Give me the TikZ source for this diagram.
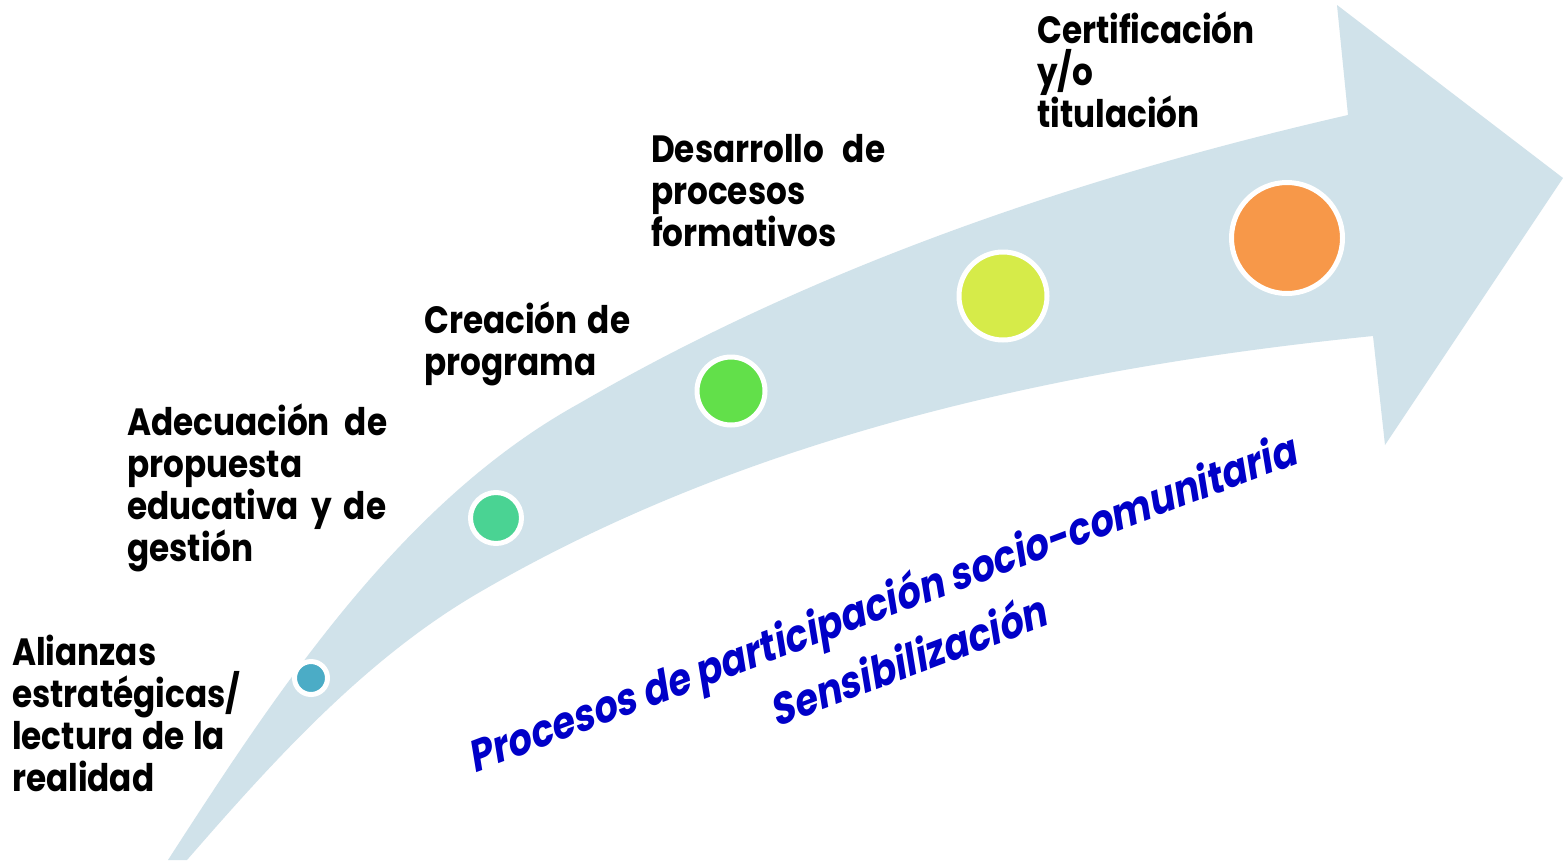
\documentclass[tikz,border=0pt]{standalone}
\usepackage{fontspec}
\usepackage{graphicx}
\newfontfamily\labfont{Poppins Bold}[FakeStretch=0.86]
\newfontfamily\bluefont{Poppins Bold}[FakeSlant=0.2,FakeStretch=0.86]
\definecolor{bandc}{RGB}{208,226,234}
\definecolor{c1}{RGB}{75,172,198}
\definecolor{c2}{RGB}{74,211,147}
\definecolor{c3}{RGB}{98,224,74}
\definecolor{c4}{RGB}{214,235,73}
\definecolor{c5}{RGB}{247,152,73}
\definecolor{bluetxt}{RGB}{0,0,200}
\begin{document}
\begin{tikzpicture}[x=1pt,y=-1pt,
  lbl/.style={anchor=base west, inner sep=0pt, text=black, font=\labfont\fontsize{38}{42}\selectfont},
  bl/.style={anchor=base, inner sep=0pt, rotate=20.6, text=bluetxt, font=\bluefont\fontsize{44}{50}\selectfont},
  dot/.style={circle, draw=white, line width=5pt, inner sep=0pt}]
\useasboundingbox (0,0) rectangle (1563,860);
\fill[white] (0,0) rectangle (1563,860);
% big curved arrow
\fill[bandc] (168,860) .. controls (279,688) and (402,501) .. (580,403)
  .. controls (816,266) and (1082,176) .. (1348,115)
  -- (1337,5) -- (1563,178) -- (1385,445) -- (1373,336)
  .. controls (1064,367) and (748,436) .. (480,592)
  .. controls (366,658) and (274,760) .. (187,860)
  -- cycle;
% dots
\node[dot, fill=c1, minimum size=33pt] (d1) at (311,678) {};
\node[dot, fill=c2, minimum size=51pt] (d2) at (496,518) {};
\node[dot, fill=c3, minimum size=68pt] (d3) at (731,391) {};
\node[dot, fill=c4, minimum size=88pt] (d4) at (1003,296) {};
\node[dot, fill=c5, minimum size=111pt] (d5) at (1287,238) {};
% labels
\node[lbl] (l1) at (12,665) {\vtop{\hbox{Alianzas}\hbox{estratégicas/}\hbox{\makebox[213pt][s]{lectura de la}}\hbox{realidad}}};
\node[lbl] (l2) at (127,435) {\vtop{\hbox{\makebox[260pt][s]{Adecuación de}}\hbox{propuesta}\hbox{\makebox[259pt][s]{educativa y de}}\hbox{gestión}}};
\node[lbl] (l3) at (424,333) {\vtop{\hbox{\makebox[206pt][s]{Creación de}}\hbox{programa}}};
\node[lbl] (l4) at (651,162) {\vtop{\hbox{\makebox[234pt][s]{Desarrollo de}}\hbox{procesos}\hbox{formativos}}};
\node[lbl] (l5) at (1037,43) {\vtop{\hbox{Certificación}\hbox{y/o}\hbox{titulación}}};
% blue text
\node[bl] (b1) at (887,618) {Procesos de participación socio-comunitaria};
\node[bl] (b2) at (913,676) {Sensibilización};
\end{tikzpicture}
\end{document}
